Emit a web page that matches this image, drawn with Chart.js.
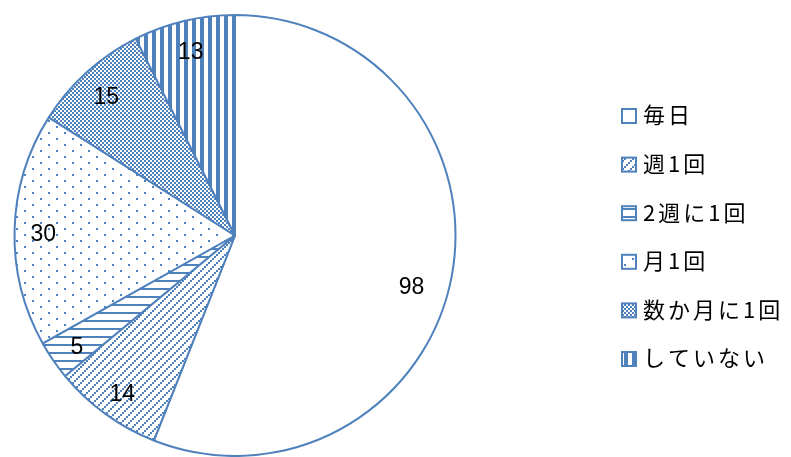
<!DOCTYPE html>
<html>
<head>
<meta charset="utf-8">
<script src="https://cdn.jsdelivr.net/npm/chart.js@4"></script>
<style>
  html, body { margin: 0; padding: 0; background: #fff; }
  #wrap { width: 791px; height: 457px; }
</style>
</head>
<body>
<div id="wrap"><canvas id="pieChart" width="791" height="457"></canvas></div>
<script>
const categories = ['毎日', '週1回', '2週に1回', '月1回', '数か月に1回', 'していない'];
const counts = [98, 14, 5, 30, 15, 13];
const blue = '#4F81BD';

// small tiles for the fill patterns
function makeTile(w, h, draw) {
  const c = document.createElement('canvas');
  c.width = w; c.height = h;
  const g = c.getContext('2d');
  g.fillStyle = '#fff';
  g.fillRect(0, 0, w, h);
  g.fillStyle = blue;
  draw(g);
  return document.createElement('canvas').getContext('2d').createPattern(c, 'repeat');
}

const fills = [
  '#ffffff',
  makeTile(8, 8, g => { g.fillRect(6, 0, 2, 2); g.fillRect(4, 2, 2, 2); g.fillRect(2, 4, 2, 2); g.fillRect(0, 6, 2, 2); }),
  makeTile(8, 8, g => { g.fillRect(0, 0, 8, 2); }),
  makeTile(16, 12, g => { g.fillRect(0, 0, 2, 2); g.fillRect(8, 6, 2, 2); }),
  makeTile(4, 4, g => { g.fillRect(0, 0, 2, 2); g.fillRect(2, 2, 2, 2); }),
  makeTile(8, 8, g => { g.fillRect(0, 0, 4, 8); })
];

const total = counts.reduce((a, b) => a + b, 0);

const sliceLabels = {
  id: 'sliceLabels',
  afterDatasetsDraw(chart) {
    const ctx = chart.ctx;
    const meta = chart.getDatasetMeta(0);
    ctx.save();
    ctx.font = '23px "Liberation Sans", Arial, sans-serif';
    ctx.fillStyle = '#000';
    ctx.textAlign = 'center';
    ctx.textBaseline = 'middle';
    meta.data.forEach((arc, i) => {
      let mid = (arc.startAngle + arc.endAngle) / 2;
      let r = arc.outerRadius * 0.87;
      // the big slice's label sits a little further in and round, like Excel's best fit
      if (counts[i] / total > 0.5) { r = arc.outerRadius * 0.83; mid += 0.08; }
      ctx.fillText(String(counts[i]), arc.x + Math.cos(mid) * r, arc.y + Math.sin(mid) * r + 4);
    });
    ctx.restore();
  }
};

const sideLegend = {
  id: 'sideLegend',
  afterDraw(chart) {
    const ctx = chart.ctx;
    const x0 = 622, y0 = 115, step = 48.6, box = 14;
    ctx.save();
    ctx.font = '22px "Noto Sans CJK JP", sans-serif';
    ctx.letterSpacing = '3px';
    ctx.textBaseline = 'middle';
    categories.forEach((name, i) => {
      const y = y0 + i * step;
      ctx.fillStyle = fills[i];
      ctx.fillRect(x0, y - box / 2 + 1, box, box);
      ctx.strokeStyle = blue;
      ctx.lineWidth = 2;
      ctx.strokeRect(x0, y - box / 2 + 1, box, box);
      ctx.fillStyle = '#000';
      ctx.fillText(name, x0 + 21, y);
    });
    ctx.restore();
  }
};

new Chart(document.getElementById('pieChart').getContext('2d'), {
  type: 'pie',
  data: {
    labels: categories,
    datasets: [{
      data: counts,
      backgroundColor: fills,
      borderColor: blue,
      borderWidth: 2
    }]
  },
  options: {
    responsive: false,
    animation: false,
    layout: { padding: { top: 14, bottom: 0, left: 13, right: 334 } },
    plugins: {
      legend: { display: false },
      tooltip: { enabled: false }
    }
  },
  plugins: [sliceLabels, sideLegend]
});
</script>
</body>
</html>
